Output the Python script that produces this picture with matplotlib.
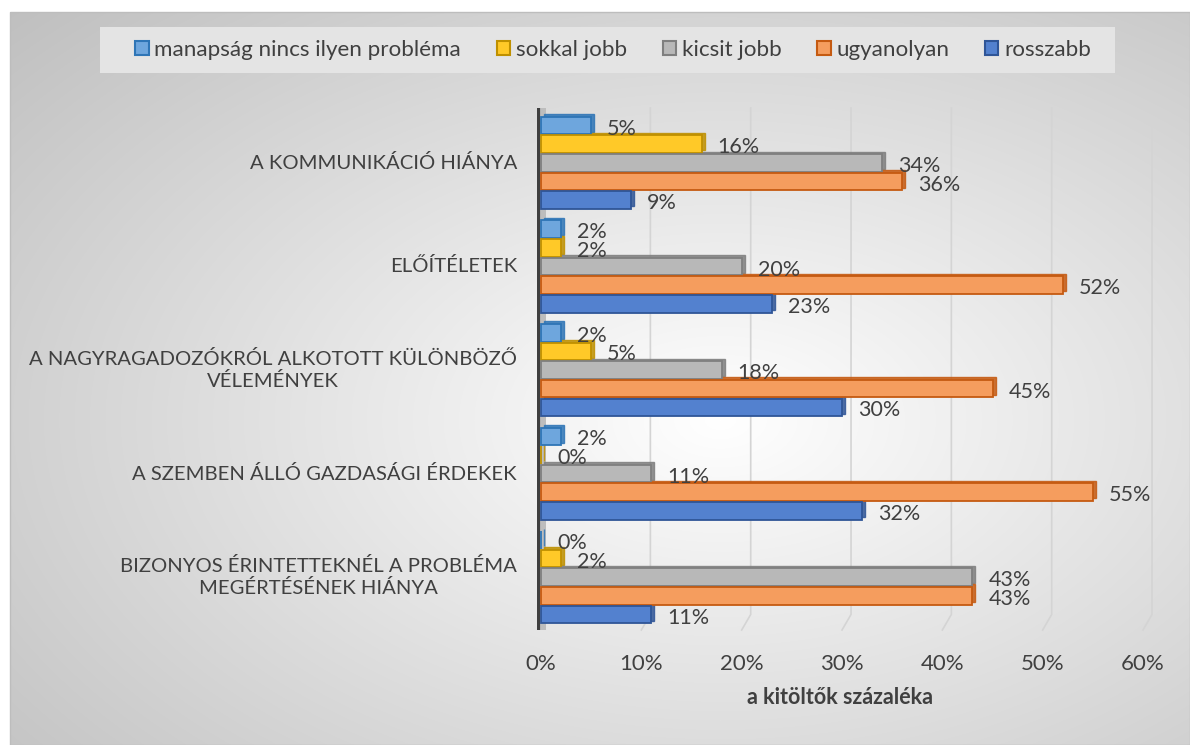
import numpy as np
import matplotlib
matplotlib.use('agg')
import matplotlib.pyplot as plt
import matplotlib.patches as patches

plt.rcParams['font.family'] = ['Lato', 'DejaVu Sans']

categories = ['A KOMMUNIKÁCIÓ HIÁNYA',
              'ELŐÍTÉLETEK',
              'A NAGYRAGADOZÓKRÓL ALKOTOTT KÜLÖNBÖZŐ\nVÉLEMÉNYEK',
              'A SZEMBEN ÁLLÓ GAZDASÁGI ÉRDEKEK',
              'BIZONYOS ÉRINTETTEKNÉL A PROBLÉMA\nMEGÉRTÉSÉNEK HIÁNYA']

series = ['manapság nincs ilyen probléma', 'sokkal jobb', 'kicsit jobb',
          'ugyanolyan', 'rosszabb']

# percentages, one list per series, in category order
manapsag = [5, 2, 2, 2, 0]
sokkal = [16, 2, 5, 0, 2]
kicsit = [34, 20, 18, 11, 43]
ugyanolyan = [36, 52, 45, 55, 43]
rosszabb = [9, 23, 30, 32, 11]
values = [manapsag, sokkal, kicsit, ugyanolyan, rosszabb]

xticks = [0, 10, 20, 30, 40, 50, 60]

face = ['#6ea6dd', '#ffc928', '#b8b8b8', '#f59d5e', '#5381cf']
edge = ['#2e75b6', '#bf9000', '#7f7f7f', '#c55a11', '#2f5597']
txt = '#404040'

W, H = 1190, 745
fig = plt.figure(figsize=(W / 100, H / 100), dpi=100)

# chart area background: radial gradient
bg = fig.add_axes([10 / W, 0, 1 - 10 / W, 1 - 12 / H])
yy, xx = np.mgrid[12:H, 10:W]
d = np.sqrt(((xx - 720) / 820.0) ** 2 + ((yy - 420) / 500.0) ** 2)
g = 255 - 64 * np.clip(d / 1.2, 0, 1)
img = np.dstack([g, g, g]) / 255.0
bg.imshow(img, aspect='auto', extent=[0, 1, 0, 1], origin='upper')
bg.set_xlim(0, 1)
bg.set_ylim(0, 1)
bg.axis('off')
fig.patches.append(patches.Rectangle((10 / W, 0), 1 - 10 / W, 1 - 12 / H,
                                     transform=fig.transFigure, fill=False,
                                     edgecolor='#bdbdbd', lw=1, zorder=0))

# legend box
lb = patches.Rectangle((100 / W, 1 - 73 / H), 1015 / W, 46 / H,
                       transform=fig.transFigure, facecolor='#e4e4e4',
                       edgecolor='none', zorder=1)
fig.patches.append(lb)

ax = fig.add_axes([537 / W, 1 - 630 / H, 606 / W, 522 / H])
ax.patch.set_alpha(0)
ax.set_xlim(-0.4, 60)
ax.set_ylim(4.51, -0.53)

# gridlines on the back wall with a slanted foot
for t in xticks[1:]:
    ax.plot([t + 0.9, t + 0.9, t], [-0.53, 4.36, 4.51], color='#d4d4d4',
            lw=1.2, zorder=1, clip_on=False)

# left wall
ax.add_patch(patches.Rectangle((-0.3, -0.53), 0.8, 5.04, facecolor='#bdbdbd',
                               edgecolor='none', zorder=1))
ax.plot([-0.3, -0.3], [-0.53, 4.51], color='#3f3f3f', lw=3, zorder=2,
        solid_capstyle='butt')

offsets = [-0.36, -0.18, 0.0, 0.18, 0.36]
bh = 0.17
y = np.arange(len(categories))
for i, vals in enumerate(values):
    yp = y + offsets[i]
    # depth of the 3d bar
    ax.barh(yp - 0.025, vals, left=0.3, height=bh, color=edge[i],
            edgecolor=edge[i], lw=1, zorder=3, alpha=0.85)
    ax.barh(yp, vals, height=bh, color=face[i], edgecolor=edge[i], lw=1.3,
            zorder=4, label=series[i])
    for yv, v in zip(yp, vals):
        ax.text(v + 1.6, yv + 0.03, f'{v}%', ha='left', va='center',
                fontsize=15.5, color=txt, zorder=5)

# category labels
ytr = ax.get_yaxis_transform()
for yc, lab in zip(y, categories):
    ax.text(-0.033, yc, lab, transform=ytr, ha='right', va='center',
            multialignment='center', linespacing=1.3,
            fontsize=14.6, color=txt)
ax.set_yticks(y)
ax.set_yticklabels([])
ax.tick_params(axis='y', length=0)

ax.set_xticks(xticks)
ax.set_xticklabels([f'{t}%' for t in xticks], fontsize=16, color=txt)
ax.tick_params(axis='x', length=0, pad=17)
ax.set_xlabel('a kitöltők százaléka', fontsize=15.5, fontweight='bold',
              color=txt, labelpad=10)

for s in ax.spines.values():
    s.set_visible(False)

handles = [patches.Patch(facecolor=face[i], edgecolor=edge[i], lw=1.5)
           for i in range(len(series))]
leg = fig.legend(handles, series, loc='center', ncol=5,
                 bbox_to_anchor=(613 / W, 1 - 50 / H), frameon=False,
                 fontsize=16.1, handlelength=0.6, handleheight=0.6,
                 handletextpad=0.25, columnspacing=1.6)
for t in leg.get_texts():
    t.set_color(txt)
leg.set_zorder(3)

fig.savefig('out.png', dpi=100)
